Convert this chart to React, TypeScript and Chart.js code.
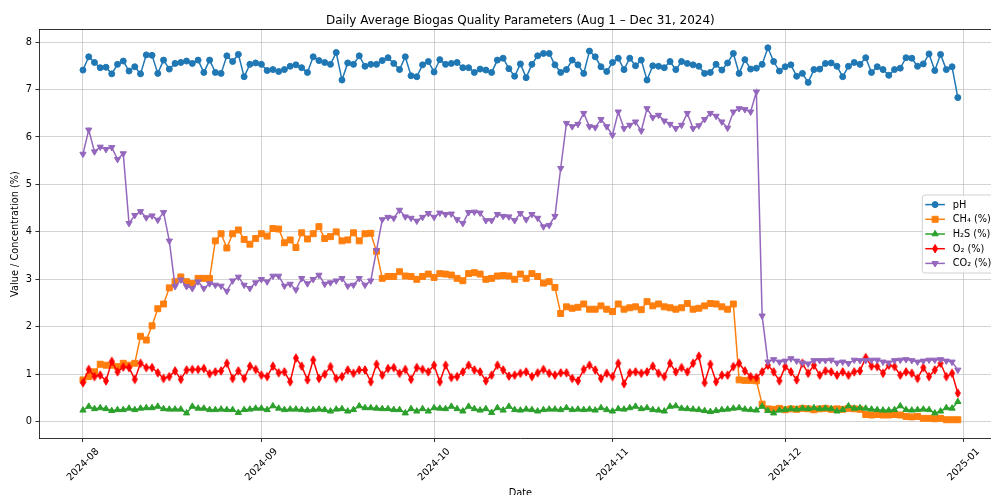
import React, { useEffect, useRef } from 'react';
import { Chart, registerables } from 'chart.js';

Chart.register(...registerables);

const TITLE = 'Daily Average Biogas Quality Parameters (Aug 1 \u2013 Dec 31, 2024)';
const X_TITLE = 'Date';
const Y_TITLE = 'Value / Concentration (%)';

const startDate = Date.UTC(2024, 7, 1);
const tickLabels = ['2024-08', '2024-09', '2024-10', '2024-11', '2024-12', '2025-01'];
const yTickValues = [0, 1, 2, 3, 4, 5, 6, 7, 8];

const seriesNames = ['pH', 'CH\u2084 (%)', 'H\u2082S (%)', 'O\u2082 (%)', 'CO\u2082 (%)'];

const pH = [
  7.41, 7.69, 7.57, 7.46, 7.47, 7.33, 7.53, 7.60, 7.39, 7.48,
  7.33, 7.73, 7.72, 7.34, 7.62, 7.43, 7.55, 7.57, 7.60, 7.55,
  7.62, 7.36, 7.62, 7.36, 7.34, 7.71, 7.59, 7.74, 7.27, 7.53,
  7.56, 7.53, 7.40, 7.42, 7.38, 7.42, 7.49, 7.52, 7.46, 7.36,
  7.69, 7.61, 7.57, 7.53, 7.78, 7.20, 7.56, 7.53, 7.71, 7.49,
  7.53, 7.53, 7.61, 7.67, 7.55, 7.42, 7.69, 7.29, 7.27, 7.52,
  7.59, 7.37, 7.63, 7.53, 7.55, 7.57, 7.46, 7.46, 7.36, 7.43,
  7.41, 7.36, 7.62, 7.66, 7.44, 7.28, 7.54, 7.25, 7.53, 7.71,
  7.76, 7.76, 7.52, 7.36, 7.42, 7.62, 7.52, 7.34, 7.81, 7.69,
  7.48, 7.38, 7.57, 7.66, 7.42, 7.66, 7.50, 7.62, 7.20, 7.50,
  7.49, 7.46, 7.59, 7.42, 7.59, 7.55, 7.52, 7.49, 7.34, 7.36,
  7.53, 7.41, 7.56, 7.76, 7.34, 7.63, 7.43, 7.45, 7.53, 7.88,
  7.59, 7.39, 7.48, 7.52, 7.28, 7.34, 7.15, 7.42, 7.43, 7.55,
  7.56, 7.49, 7.27, 7.49, 7.57, 7.53, 7.67, 7.36, 7.48, 7.42,
  7.30, 7.42, 7.45, 7.67, 7.66, 7.49, 7.54, 7.75, 7.40, 7.74,
  7.42, 7.48, 6.83,
];

const ch4 = [
  0.88, 0.95, 1.05, 1.21, 1.19, 1.19, 1.16, 1.23, 1.19, 1.23,
  1.80, 1.72, 2.02, 2.38, 2.48, 2.82, 2.95, 3.05, 2.95, 2.91,
  3.02, 3.02, 3.02, 3.81, 3.96, 3.66, 3.96, 4.04, 3.84, 3.74,
  3.86, 3.96, 3.91, 4.07, 4.06, 3.77, 3.83, 3.67, 3.98, 3.85,
  3.96, 4.11, 3.86, 3.90, 4.00, 3.81, 3.83, 3.98, 3.81, 3.96,
  3.97, 3.59, 3.02, 3.06, 3.06, 3.16, 3.07, 3.06, 3.00, 3.06,
  3.11, 3.04, 3.12, 3.11, 3.09, 3.02, 2.97, 3.12, 3.14, 3.11,
  3.00, 3.02, 3.07, 3.08, 3.07, 3.00, 3.11, 3.02, 3.12, 3.06,
  2.92, 2.95, 2.83, 2.28, 2.42, 2.39, 2.41, 2.48, 2.37, 2.37,
  2.44, 2.37, 2.32, 2.48, 2.37, 2.40, 2.42, 2.36, 2.53, 2.44,
  2.48, 2.42, 2.40, 2.37, 2.40, 2.49, 2.37, 2.39, 2.44, 2.49,
  2.48, 2.42, 2.37, 2.48, 0.88, 0.87, 0.87, 0.86, 0.37, 0.27,
  0.26, 0.28, 0.25, 0.27, 0.26, 0.28, 0.27, 0.25, 0.27, 0.28,
  0.26, 0.27, 0.26, 0.28, 0.27, 0.26, 0.15, 0.14, 0.15, 0.14,
  0.14, 0.15, 0.14, 0.11, 0.10, 0.11, 0.07, 0.07, 0.06, 0.07,
  0.04, 0.04, 0.04,
];

const h2s = [
  0.24, 0.32, 0.27, 0.29, 0.27, 0.23, 0.25, 0.25, 0.28, 0.25,
  0.28, 0.29, 0.29, 0.32, 0.27, 0.26, 0.26, 0.26, 0.18, 0.32,
  0.28, 0.28, 0.25, 0.25, 0.26, 0.25, 0.25, 0.19, 0.25, 0.26,
  0.28, 0.28, 0.25, 0.33, 0.28, 0.25, 0.26, 0.26, 0.25, 0.24,
  0.25, 0.26, 0.25, 0.22, 0.26, 0.27, 0.22, 0.25, 0.33, 0.29,
  0.29, 0.28, 0.27, 0.27, 0.25, 0.25, 0.18, 0.27, 0.22, 0.27,
  0.22, 0.29, 0.28, 0.27, 0.32, 0.27, 0.22, 0.32, 0.27, 0.24,
  0.27, 0.19, 0.29, 0.24, 0.32, 0.25, 0.24, 0.26, 0.25, 0.22,
  0.25, 0.26, 0.26, 0.25, 0.29, 0.25, 0.26, 0.25, 0.26, 0.24,
  0.29, 0.25, 0.22, 0.27, 0.26, 0.29, 0.32, 0.27, 0.29, 0.25,
  0.24, 0.22, 0.32, 0.33, 0.28, 0.27, 0.26, 0.25, 0.23, 0.21,
  0.23, 0.25, 0.26, 0.28, 0.29, 0.26, 0.25, 0.24, 0.32, 0.23,
  0.18, 0.24, 0.25, 0.27, 0.26, 0.28, 0.27, 0.29, 0.27, 0.28,
  0.27, 0.22, 0.25, 0.33, 0.28, 0.29, 0.28, 0.26, 0.25, 0.24,
  0.24, 0.25, 0.33, 0.25, 0.24, 0.25, 0.26, 0.25, 0.18, 0.22,
  0.29, 0.28, 0.42,
];

const o2 = [
  0.82, 1.10, 0.95, 0.98, 0.86, 1.27, 1.05, 1.15, 1.14, 0.89,
  1.23, 1.14, 1.14, 1.03, 0.91, 0.95, 1.07, 0.89, 1.09, 1.10,
  1.10, 1.12, 1.01, 1.05, 1.07, 1.23, 0.91, 1.07, 0.91, 1.17,
  1.10, 0.98, 0.95, 1.17, 1.03, 1.05, 0.84, 1.34, 1.17, 0.88,
  1.30, 0.91, 1.00, 1.16, 0.91, 0.95, 1.09, 1.02, 1.09, 1.09,
  0.84, 1.21, 0.98, 1.12, 1.14, 1.02, 1.10, 0.89, 1.14, 1.10,
  1.05, 1.19, 0.84, 1.19, 0.93, 0.95, 1.05, 1.19, 1.09, 1.05,
  0.86, 0.98, 1.19, 1.09, 0.96, 0.98, 1.02, 1.05, 0.95, 1.03,
  1.10, 1.02, 0.98, 1.03, 1.03, 0.91, 0.86, 1.10, 1.19, 1.09,
  0.91, 1.02, 0.95, 1.23, 0.80, 1.03, 1.05, 1.02, 1.05, 1.17,
  1.02, 0.95, 1.23, 1.05, 1.14, 1.05, 1.23, 1.38, 0.82, 1.21,
  0.84, 0.98, 0.98, 1.16, 1.23, 1.07, 0.95, 0.93, 1.05, 1.19,
  1.05, 0.86, 1.16, 1.05, 0.88, 1.23, 1.02, 1.19, 0.98, 1.07,
  1.05, 0.98, 1.05, 0.98, 1.05, 1.07, 1.35, 1.17, 1.16, 1.02,
  1.19, 1.16, 0.98, 1.05, 1.02, 0.91, 1.14, 0.95, 1.09, 1.23,
  0.95, 1.02, 0.60,
];

const co2 = [
  5.64, 6.15, 5.69, 5.79, 5.74, 5.78, 5.53, 5.65, 4.18, 4.35,
  4.43, 4.30, 4.34, 4.25, 4.41, 3.81, 2.85, 2.99, 2.85, 2.81,
  2.95, 2.81, 2.91, 2.88, 2.86, 2.75, 2.97, 3.05, 2.88, 2.81,
  2.93, 3.00, 2.95, 3.07, 3.07, 2.86, 2.90, 2.78, 3.02, 2.91,
  3.00, 3.09, 2.90, 2.93, 2.97, 3.02, 2.86, 2.88, 3.02, 2.88,
  2.97, 3.61, 4.26, 4.31, 4.29, 4.46, 4.32, 4.29, 4.23, 4.31,
  4.39, 4.31, 4.40, 4.37, 4.38, 4.26, 4.18, 4.41, 4.42, 4.40,
  4.24, 4.24, 4.37, 4.33, 4.32, 4.24, 4.39, 4.26, 4.37, 4.29,
  4.11, 4.14, 4.33, 5.34, 6.29, 6.22, 6.27, 6.50, 6.22, 6.20,
  6.37, 6.22, 6.04, 6.53, 6.18, 6.25, 6.32, 6.13, 6.60, 6.41,
  6.46, 6.34, 6.27, 6.18, 6.25, 6.50, 6.18, 6.24, 6.37, 6.50,
  6.44, 6.32, 6.19, 6.53, 6.60, 6.58, 6.53, 6.95, 2.23, 1.26,
  1.31, 1.26, 1.28, 1.33, 1.28, 1.24, 1.22, 1.29, 1.29, 1.29,
  1.30, 1.24, 1.26, 1.23, 1.30, 1.29, 1.29, 1.30, 1.30, 1.26,
  1.24, 1.29, 1.30, 1.31, 1.29, 1.26, 1.28, 1.30, 1.30, 1.31,
  1.28, 1.26, 1.09,
];

// ---- styling (not data) ----
const COLORS = ['#1f77b4', '#ff7f0e', '#2ca02c', '#ff0000', '#9467bd'];
const MARKERS = ['circle', 'square', 'up', 'thin', 'down'];
const FONT = '"DejaVu Sans", "Liberation Sans", sans-serif';
const FS = 9.8;

const DAY_MS = 86400000;
const tickDays = tickLabels.map((t) => {
  const [y, m] = t.split('-').map(Number);
  return Math.round((Date.UTC(y, m - 1, 1) - startDate) / DAY_MS);
});

function toPoints(values: number[]) {
  return values.map((v, i) => ({ x: i, y: v }));
}

function drawMarker(ctx: CanvasRenderingContext2D, kind: string, x: number, y: number, color: string) {
  ctx.save();
  ctx.fillStyle = color;
  ctx.strokeStyle = color;
  ctx.lineWidth = 1;
  ctx.beginPath();
  if (kind === 'circle') {
    ctx.arc(x, y, 3, 0, Math.PI * 2);
  } else if (kind === 'square') {
    ctx.rect(x - 3, y - 3, 6, 6);
  } else if (kind === 'up') {
    ctx.moveTo(x, y - 3.6);
    ctx.lineTo(x + 3.12, y + 1.8);
    ctx.lineTo(x - 3.12, y + 1.8);
    ctx.closePath();
  } else if (kind === 'down') {
    ctx.moveTo(x, y + 3.6);
    ctx.lineTo(x + 3.12, y - 1.8);
    ctx.lineTo(x - 3.12, y - 1.8);
    ctx.closePath();
  } else {
    ctx.moveTo(x, y - 4.2);
    ctx.lineTo(x + 2.5, y);
    ctx.lineTo(x, y + 4.2);
    ctx.lineTo(x - 2.5, y);
    ctx.closePath();
  }
  ctx.fill();
  ctx.stroke();
  ctx.restore();
}

const overlayPlugin = {
  id: 'overlay',
  afterDraw(chart: any) {
    const { ctx, chartArea: a } = chart;
    ctx.save();
    ctx.strokeStyle = '#000';
    ctx.lineWidth = 0.8;
    ctx.beginPath();
    ctx.moveTo(a.left, a.top);
    ctx.lineTo(a.right, a.top);
    ctx.lineTo(a.right, a.bottom);
    ctx.stroke();

    ctx.fillStyle = '#000';
    ctx.font = `12px ${FONT}`;
    ctx.textAlign = 'center';
    ctx.textBaseline = 'alphabetic';
    ctx.fillText(TITLE, (a.left + a.right) / 2, a.top - 5.9);

    const rowH = 14.7;
    const boxW = 75;
    const boxH = 78;
    const bx = a.right - 4.5 - boxW;
    const cy = (a.top + a.bottom) / 2;
    const by = cy - boxH / 2;
    const r = 2.5;
    ctx.beginPath();
    ctx.moveTo(bx + r, by);
    ctx.lineTo(bx + boxW - r, by);
    ctx.arcTo(bx + boxW, by, bx + boxW, by + r, r);
    ctx.lineTo(bx + boxW, by + boxH - r);
    ctx.arcTo(bx + boxW, by + boxH, bx + boxW - r, by + boxH, r);
    ctx.lineTo(bx + r, by + boxH);
    ctx.arcTo(bx, by + boxH, bx, by + boxH - r, r);
    ctx.lineTo(bx, by + r);
    ctx.arcTo(bx, by, bx + r, by, r);
    ctx.closePath();
    ctx.fillStyle = 'rgba(255,255,255,0.8)';
    ctx.fill();
    ctx.strokeStyle = '#cccccc';
    ctx.lineWidth = 0.9;
    ctx.stroke();

    ctx.font = `${FS}px ${FONT}`;
    ctx.textAlign = 'left';
    ctx.textBaseline = 'middle';
    seriesNames.forEach((name, i) => {
      const y = cy + (i - 2) * rowH;
      const x0 = bx + 3;
      const x1 = x0 + 19.6;
      ctx.strokeStyle = COLORS[i];
      ctx.lineWidth = 1.5;
      ctx.beginPath();
      ctx.moveTo(x0, y);
      ctx.lineTo(x1, y);
      ctx.stroke();
      drawMarker(ctx, MARKERS[i], (x0 + x1) / 2, y, COLORS[i]);
      ctx.fillStyle = '#000';
      ctx.fillText(name, x1 + 7.8, y + 0.5);
    });
    ctx.restore();
  },
};

export default function App() {
  const ref = useRef<HTMLCanvasElement | null>(null);

  useEffect(() => {
    const canvas = ref.current;
    if (!canvas) return;

    const diamond = document.createElement('canvas');
    diamond.width = 8;
    diamond.height = 12;
    const dctx = diamond.getContext('2d')!;
    dctx.fillStyle = COLORS[3];
    dctx.strokeStyle = COLORS[3];
    dctx.lineWidth = 1;
    dctx.beginPath();
    dctx.moveTo(4, 1.8);
    dctx.lineTo(6.5, 6);
    dctx.lineTo(4, 10.2);
    dctx.lineTo(1.5, 6);
    dctx.closePath();
    dctx.fill();
    dctx.stroke();

    const allSeries = [pH, ch4, h2s, o2, co2];
    const styles: any[] = [
      { pointStyle: 'circle', pointRadius: 3, pointRotation: 0 },
      { pointStyle: 'rect', pointRadius: 4.2, pointRotation: 0 },
      { pointStyle: 'triangle', pointRadius: 3.6, pointRotation: 0 },
      { pointStyle: diamond, pointRadius: 4, pointRotation: 0 },
      { pointStyle: 'triangle', pointRadius: 3.6, pointRotation: 180 },
    ];

    const datasets = allSeries.map((vals, i) => ({
      label: seriesNames[i],
      data: toPoints(vals),
      borderColor: COLORS[i],
      backgroundColor: COLORS[i],
      pointBackgroundColor: COLORS[i],
      pointBorderColor: COLORS[i],
      pointBorderWidth: 1,
      borderWidth: 1.5,
      tension: 0,
      order: allSeries.length - i,
      ...styles[i],
    }));

    const chart = new Chart(canvas, {
      type: 'line',
      data: { datasets },
      plugins: [overlayPlugin],
      options: {
        responsive: false,
        animation: false,
        devicePixelRatio: 1,
        layout: { padding: { top: 29.5, left: 0, right: 0, bottom: 0 } },
        plugins: {
          legend: { display: false },
          tooltip: { enabled: false },
          title: { display: false },
        },
        scales: {
          x: {
            type: 'linear',
            min: -7.64,
            max: 159.64,
            afterBuildTicks: (scale: any) => {
              scale.ticks = tickDays.map((v) => ({ value: v }));
            },
            afterFit: (scale: any) => {
              scale.height = 61.5;
              scale.paddingLeft = 0;
              scale.paddingRight = 0;
            },
            ticks: {
              autoSkip: false,
              minRotation: 45,
              maxRotation: 45,
              labelOffset: 14.6,
              padding: 4,
              color: '#000',
              font: { family: FONT, size: FS },
              callback: (value: any) => {
                const idx = tickDays.indexOf(Number(value));
                return idx >= 0 ? tickLabels[idx] : '';
              },
            },
            grid: {
              color: 'rgba(176,176,176,0.7)',
              lineWidth: 0.8,
              tickColor: '#000',
              tickWidth: 0.8,
              tickLength: 3.5,
            },
            border: { display: true, color: '#000', width: 0.8 },
            title: {
              display: true,
              text: X_TITLE,
              color: '#000',
              font: { family: FONT, size: FS },
              padding: { top: 0, bottom: 1 },
            },
          },
          y: {
            type: 'linear',
            min: -0.355,
            max: 8.265,
            afterBuildTicks: (scale: any) => {
              scale.ticks = yTickValues.map((v) => ({ value: v }));
            },
            afterFit: (scale: any) => {
              scale.width = 39;
            },
            ticks: {
              padding: 3.4,
              color: '#000',
              font: { family: FONT, size: FS },
              callback: (value: any) => String(value),
            },
            grid: {
              color: 'rgba(176,176,176,0.7)',
              lineWidth: 0.8,
              tickColor: '#000',
              tickWidth: 0.8,
              tickLength: 3.5,
            },
            border: { display: true, color: '#000', width: 0.8 },
            title: {
              display: true,
              text: Y_TITLE,
              color: '#000',
              font: { family: FONT, size: FS },
              padding: { top: 10, bottom: 0 },
            },
          },
        },
      },
    } as any);

    return () => chart.destroy();
  }, []);

  return (
    <div
      style={{
        position: 'fixed',
        left: 0,
        top: 0,
        width: 991,
        height: 495,
        overflow: 'hidden',
        background: '#fff',
      }}
    >
      <canvas ref={ref} width={1007} height={500} style={{ display: 'block', width: 1007, height: 500 }} />
    </div>
  );
}
